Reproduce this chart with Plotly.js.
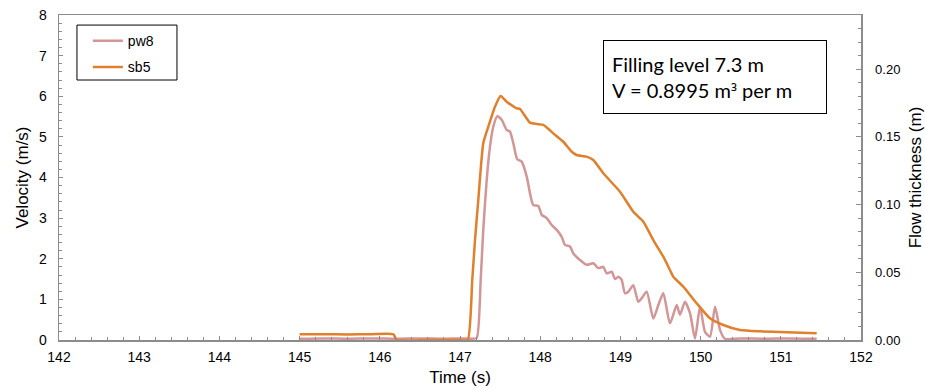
<!DOCTYPE html>
<html>
<head>
<meta charset="utf-8">
<script src="https://cdn.plot.ly/plotly-3.0.1.min.js"></script>
<style>html,body{margin:0;padding:0;background:#fff;}#chart{width:925px;height:390px;}</style>
</head>
<body>
<div id="chart"></div>
<script>
// pw8 : velocity (m/s)
var pw8Time = [145.0,145.3,145.6,145.9,146.2,146.5,146.8,147.0,147.15,147.208,147.258,147.290,147.333,147.374,147.415,147.465,147.520,147.582,147.623,147.665,147.714,147.769,147.832,147.873,147.914,147.976,148.019,148.081,148.143,148.206,148.268,148.309,148.372,148.413,148.496,148.580,148.662,148.724,148.787,148.829,148.891,148.933,148.974,149.016,149.057,149.099,149.161,149.223,149.266,149.328,149.410,149.473,149.535,149.618,149.702,149.743,149.805,149.868,149.930,149.993,150.055,150.117,150.180,150.242,150.304,150.5,150.8,151.1,151.447];
var pw8Vel = [0.03,0.04,0.03,0.04,0.03,0.04,0.03,0.04,0.03,0.05,1.48,2.71,3.94,4.76,5.25,5.51,5.42,5.17,5.13,4.84,4.45,4.39,4.02,3.61,3.32,3.30,3.08,3.00,2.83,2.71,2.54,2.34,2.30,2.13,1.97,1.85,1.89,1.77,1.80,1.64,1.68,1.50,1.56,1.48,1.15,1.19,1.35,0.94,1.03,1.19,0.53,0.86,1.15,0.41,0.86,0.62,0.94,0.66,0.04,0.82,0.20,0.08,0.82,0.25,0.03,0.04,0.03,0.04,0.03];

// sb5 : flow thickness (m)
var sb5Time = [145.0,145.3,145.6,145.9,146.17,146.21,146.6,147.0,147.096,147.153,147.187,147.228,147.290,147.353,147.436,147.507,147.582,147.707,147.748,147.873,147.956,148.039,148.163,148.288,148.393,148.455,148.580,148.662,148.787,148.995,149.161,149.286,149.410,149.535,149.618,149.660,149.784,149.951,150.117,150.283,150.491,150.741,151.073,151.447];
var sb5Depth = [0.0042,0.0043,0.0041,0.0043,0.0042,0.0,0.0,0.0,0.0,0.0443,0.0738,0.1034,0.1453,0.1575,0.1723,0.1802,0.1760,0.1711,0.1706,0.1605,0.1595,0.1588,0.1526,0.1464,0.1390,0.1366,0.1354,0.1329,0.1231,0.1095,0.0947,0.0874,0.0738,0.0615,0.0517,0.0467,0.0394,0.0271,0.0160,0.0111,0.0074,0.0064,0.0057,0.0050];

var seriesNames = ['pw8', 'sb5'];
var xTicks = [142,143,144,145,146,147,148,149,150,151,152];
var yTicks = [0,1,2,3,4,5,6,7,8];
var y2Ticks = [0,0.05,0.10,0.15,0.20];
var y2Labels = ['0.00','0.05','0.10','0.15','0.20'];

var axisColor = '#8c8c8c';
var tickFont = {family: 'Liberation Sans, Arial, sans-serif', size: 14, color: '#000'};
var titleFont = {family: 'Liberation Sans, Arial, sans-serif', size: 17, color: '#000'};

var traces = [
  {x: pw8Time, y: pw8Vel, name: seriesNames[0], type: 'scatter', mode: 'lines',
   line: {color: '#d39697', width: 2.5, shape: 'spline', smoothing: 0.6}, yaxis: 'y', legendgroup: 'a'},
  {x: sb5Time, y: sb5Depth, name: seriesNames[1], type: 'scatter', mode: 'lines',
   line: {color: '#e07f2c', width: 2.5, shape: 'spline', smoothing: 0.5}, yaxis: 'y2', legendgroup: 'b'}
];

var layout = {
  width: 925, height: 390,
  margin: {l: 59, r: 64, t: 15, b: 50},
  paper_bgcolor: '#fff', plot_bgcolor: '#fff',
  showlegend: true,
  legend: {x: 0.036, y: 0.969, xanchor: 'left', yanchor: 'top',
    borderwidth: 0, bgcolor: 'rgba(0,0,0,0)',
    font: {family: 'Liberation Sans, Arial, sans-serif', size: 14, color: '#000'},
    itemwidth: 30, tracegroupgap: 5},
  shapes: [{type: 'rect', xref: 'paper', yref: 'paper', x0: 0.0224, x1: 0.1471, y0: 0.80, y1: 0.969,
    line: {color: '#000', width: 1}, fillcolor: '#fff', layer: 'above'}],
  xaxis: {range: [142, 152], tickvals: xTicks, ticktext: xTicks.map(String),
    showgrid: false, zeroline: false, showline: true, linecolor: axisColor, linewidth: 1.5,
    mirror: true, ticks: 'inside', ticklen: 4, tickcolor: axisColor,
    minor: {dtick: 0.2, ticks: 'inside', ticklen: 3, tickcolor: axisColor},
    tickfont: tickFont, ticklabelstandoff: 4,
    title: {text: 'Time (s)', font: titleFont, standoff: 7}},
  yaxis: {range: [0, 8], tickvals: yTicks, ticktext: yTicks.map(String),
    showgrid: false, zeroline: false, showline: true, linecolor: axisColor, linewidth: 1.5,
    ticks: 'inside', ticklen: 4, tickcolor: axisColor,
    minor: {dtick: 0.2, ticks: 'inside', ticklen: 3, tickcolor: axisColor},
    tickfont: tickFont, ticklabelstandoff: 8,
    title: {text: 'Velocity (m/s)', font: titleFont, standoff: 6}},
  yaxis2: {range: [0, 0.24], overlaying: 'y', side: 'right',
    tickvals: y2Ticks, ticktext: y2Labels,
    showgrid: false, zeroline: false, showline: true, linecolor: axisColor, linewidth: 1.5,
    ticks: 'inside', ticklen: 5, tickcolor: axisColor,
    minor: {dtick: 0.01, ticks: 'inside', ticklen: 3, tickcolor: axisColor},
    tickfont: {family: 'Liberation Sans, Arial, sans-serif', size: 13, color: '#000'},
    ticklabelstandoff: 10,
    title: {text: 'Flow thickness (m)', font: titleFont, standoff: 10}},
  annotations: [{
    xref: 'paper', yref: 'paper', x: 0.818, y: 0.809, xanchor: 'center', yanchor: 'middle',
    text: 'Filling level 7.3 m<br>V = 0.8995 m<span style="font-family:Open Sans;font-size:17px">³</span> per m',
    showarrow: false, align: 'left', width: 206, height: 56,
    font: {family: 'Lato, Open Sans, sans-serif', size: 20, color: '#000'},
    bordercolor: '#000', borderwidth: 1, borderpad: 8, bgcolor: '#fff'
  }]
};

Plotly.newPlot('chart', traces, layout, {displayModeBar: false, staticPlot: true});
</script>
</body>
</html>
